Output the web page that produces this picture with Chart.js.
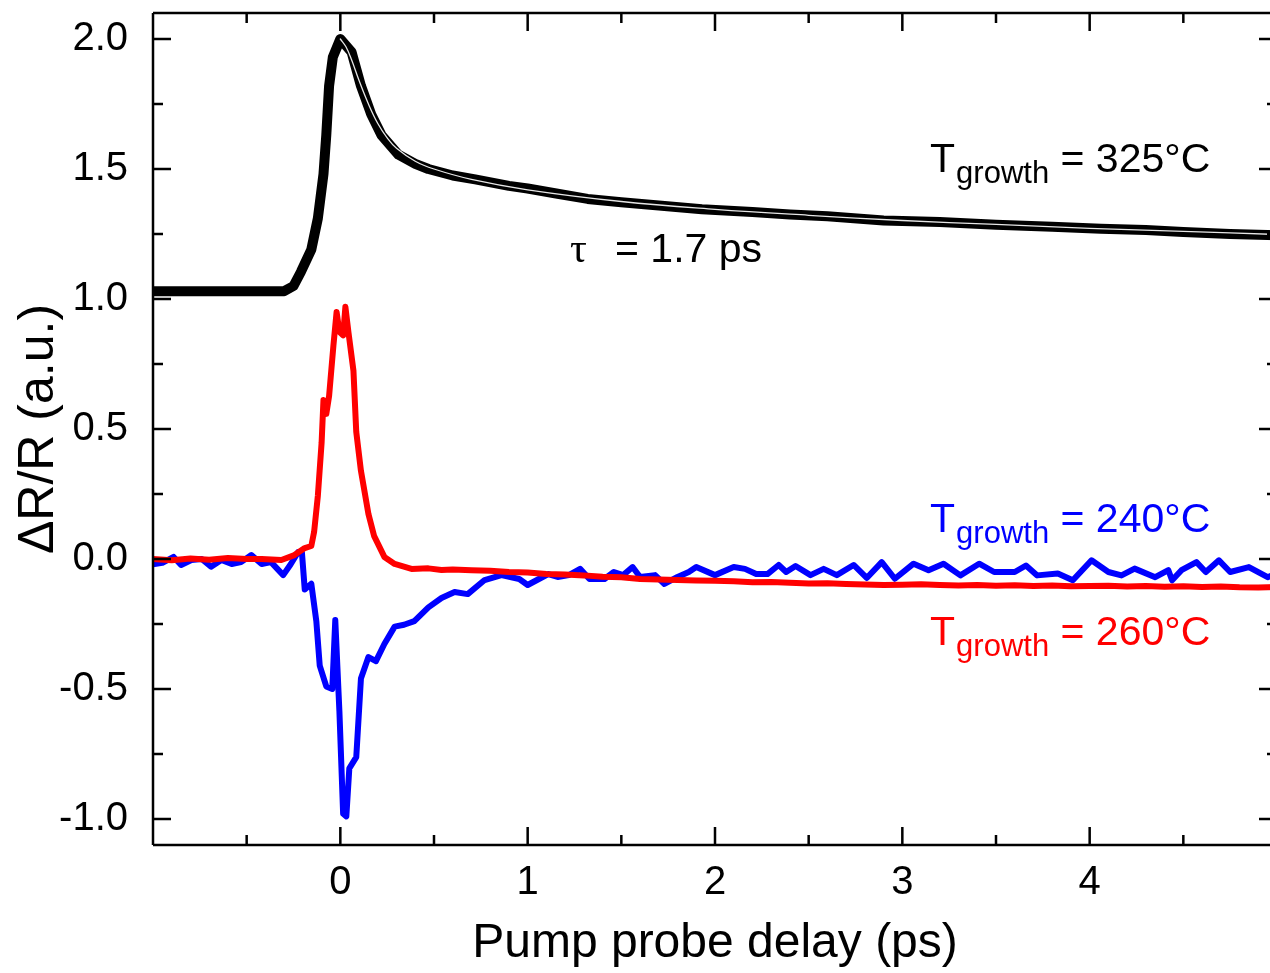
<!DOCTYPE html>
<html lang="en">
<head>
  <meta charset="UTF-8">
  <title>Pump probe delay</title>
  <script src="https://cdn.jsdelivr.net/npm/chart.js"></script>
  <style>
    html, body { margin: 0; padding: 0; background: #fff; overflow: hidden; }
    #wrap { width: 1280px; height: 973px; }
  </style>
</head>
<body>
  <div id="wrap"><canvas id="chart" width="1280" height="973"></canvas></div>
<script>
  // axis ticks
  const xTicks = [0, 1, 2, 3, 4];
  const xMinor = [-0.5, 0.5, 1.5, 2.5, 3.5, 4.5];
  const yTicks = [-1.0, -0.5, 0.0, 0.5, 1.0, 1.5, 2.0];
  const yMinor = [-0.75, -0.25, 0.25, 0.75, 1.25, 1.75];

  // T_growth = 325°C (data + fit)
  const blackX = [-1.0, -0.9, -0.8, -0.7, -0.6, -0.5, -0.4, -0.3, -0.25, -0.21, -0.155, -0.12, -0.09, -0.075, -0.06, -0.04,
    0.0, 0.06, 0.11, 0.165, 0.22, 0.31, 0.4, 0.47, 0.6, 0.72, 0.9, 1.0, 1.16, 1.32, 1.5, 1.7, 1.93, 2.2, 2.4, 2.6, 2.9,
    3.2, 3.5, 3.8, 4.06, 4.3, 4.5, 4.75, 5.0];
  const blackY = [1.03, 1.03, 1.03, 1.03, 1.03, 1.03, 1.03, 1.03, 1.05, 1.105, 1.19, 1.31, 1.48, 1.63, 1.82, 1.93,
    2.0, 1.95, 1.82, 1.71, 1.63, 1.555, 1.52, 1.50, 1.475, 1.46, 1.435, 1.425, 1.405, 1.385, 1.372, 1.36, 1.345, 1.335, 1.325, 1.318, 1.302,
    1.296, 1.286, 1.278, 1.27, 1.265, 1.258, 1.25, 1.245];
  const fitX = [0.0, 0.03, 0.06, 0.1, 0.15, 0.2, 0.25, 0.3, 0.4, 0.5, 0.7, 1.0, 1.5, 2.0, 2.5, 3.0, 3.5, 4.0, 4.5, 5.0];
  const fitY = [2.0, 1.97, 1.92, 1.84, 1.75, 1.675, 1.62, 1.58, 1.53, 1.50, 1.46, 1.42, 1.375, 1.345, 1.322, 1.302, 1.287, 1.272, 1.26, 1.248];

  // T_growth = 260°C
  const redX = [-1.0, -0.9, -0.8, -0.7, -0.6, -0.5,
    -0.42, -0.315, -0.245, -0.19, -0.155, -0.14, -0.12, -0.1, -0.09, -0.075, -0.06, -0.037, -0.02,
    -0.005, 0.015, 0.027, 0.043, 0.07, 0.085, 0.11, 0.15, 0.18, 0.235, 0.29, 0.38, 0.47,
    0.54, 0.6, 0.7, 0.8, 0.9, 1.0, 1.1, 1.2, 1.3, 1.4, 1.5, 1.6, 1.7, 1.8, 1.9, 2.0,
    2.1, 2.2, 2.3, 2.4, 2.5, 2.6, 2.7, 2.8, 2.9, 3.0, 3.1, 3.2, 3.3, 3.4, 3.5,
    3.6, 3.7, 3.8, 3.9, 4.0, 4.1, 4.2, 4.3, 4.4, 4.5, 4.6, 4.7, 4.8, 4.9, 5.0];
  const redY = [0.0, -0.005, 0.002, -0.003, 0.004, 0.0,
    0.0, -0.004, 0.015, 0.042, 0.05, 0.104, 0.243, 0.447, 0.612, 0.558, 0.627, 0.82, 0.95,
    0.874, 0.86, 0.97, 0.874, 0.724, 0.489, 0.339, 0.173, 0.089, 0.008, -0.019, -0.038, -0.036,
    -0.042, -0.04, -0.043, -0.045, -0.05, -0.052, -0.058, -0.06, -0.063, -0.068, -0.07, -0.077, -0.079, -0.081, -0.083, -0.084,
    -0.086, -0.089, -0.088, -0.091, -0.094, -0.093, -0.096, -0.098, -0.1, -0.099, -0.097, -0.1, -0.102, -0.1, -0.103,
    -0.101, -0.104, -0.102, -0.105, -0.104, -0.103, -0.106, -0.104, -0.107, -0.105, -0.108, -0.106, -0.109, -0.11, -0.108];

  // T_growth = 240°C
  const blueX = [-1.0, -0.95, -0.89, -0.85, -0.795, -0.74, -0.69, -0.635, -0.58, -0.53, -0.475, -0.42, -0.37,
    -0.305, -0.265, -0.225, -0.205, -0.19, -0.155, -0.128, -0.11, -0.075, -0.043, -0.027, -0.005,
    0.015, 0.032, 0.048, 0.085, 0.11, 0.15, 0.19, 0.235, 0.29, 0.34, 0.395, 0.47, 0.54, 0.61, 0.68,
    0.77, 0.86, 0.955, 1.0, 1.06, 1.11, 1.16, 1.22, 1.28, 1.33, 1.41, 1.46, 1.51, 1.56, 1.6, 1.68,
    1.73, 1.8, 1.86, 1.9, 2.0, 2.1, 2.16, 2.22, 2.28, 2.34, 2.38, 2.43, 2.51, 2.58, 2.65, 2.74,
    2.81, 2.89, 2.96, 3.06, 3.14, 3.22, 3.31, 3.41, 3.49, 3.6, 3.66, 3.72, 3.83, 3.91, 4.01,
    4.1, 4.17, 4.24, 4.35, 4.42, 4.44, 4.49, 4.57, 4.62, 4.69, 4.75, 4.85, 4.95, 5.0];
  const blueY = [-0.02, -0.015, 0.008, -0.023, -0.004, 0.0, -0.03, -0.004, -0.019, -0.012, 0.015, -0.019, -0.012,
    -0.062, -0.02, 0.027, 0.025, -0.117, -0.095, -0.24, -0.41, -0.49, -0.50, -0.235, -0.585,
    -0.98, -0.99, -0.805, -0.762, -0.46, -0.377, -0.393, -0.327, -0.26, -0.253, -0.239, -0.186, -0.15, -0.127, -0.135,
    -0.081, -0.062, -0.077, -0.10, -0.077, -0.058, -0.069, -0.062, -0.038, -0.077, -0.077, -0.05, -0.062, -0.031, -0.069, -0.062,
    -0.096, -0.069, -0.05, -0.031, -0.062, -0.031, -0.038, -0.058, -0.058, -0.023, -0.05, -0.027, -0.062, -0.038, -0.062, -0.023,
    -0.073, -0.012, -0.076, -0.018, -0.043, -0.018, -0.063, -0.018, -0.05, -0.05, -0.025, -0.063, -0.056, -0.082, -0.005,
    -0.05, -0.063, -0.037, -0.07, -0.043, -0.082, -0.043, -0.012, -0.05, -0.005, -0.05, -0.031, -0.07, -0.055];

  const FONT = "'Liberation Sans', Arial, sans-serif";
  const pts = (xs, ys) => xs.map((x, i) => ({ x: x, y: ys[i] }));

  // inward ticks on all four sides plus the frame
  const frameTicks = {
    id: 'frameTicks',
    afterDraw(chart) {
      const { ctx, chartArea: a, scales: { x, y } } = chart;
      ctx.save();
      ctx.strokeStyle = '#000';
      ctx.lineWidth = 2.5;
      ctx.beginPath();
      ctx.moveTo(a.left, a.top); ctx.lineTo(a.right, a.top);
      ctx.moveTo(a.left, a.bottom); ctx.lineTo(a.right, a.bottom);
      ctx.moveTo(a.left, a.top); ctx.lineTo(a.left, a.bottom);
      ctx.moveTo(a.right, a.top); ctx.lineTo(a.right, a.bottom);
      ctx.stroke();
      const tickX = (v, len) => {
        const px = x.getPixelForValue(v);
        ctx.moveTo(px, a.bottom); ctx.lineTo(px, a.bottom - len);
        ctx.moveTo(px, a.top); ctx.lineTo(px, a.top + len);
      };
      const tickY = (v, len) => {
        const py = y.getPixelForValue(v);
        ctx.moveTo(a.left, py); ctx.lineTo(a.left + len, py);
        ctx.moveTo(a.right, py); ctx.lineTo(a.right - len, py);
      };
      ctx.beginPath();
      xTicks.forEach(v => tickX(v, 18));
      xMinor.forEach(v => tickX(v, 10));
      yTicks.forEach(v => tickY(v, 18));
      yMinor.forEach(v => tickY(v, 10));
      ctx.stroke();
      ctx.restore();
    }
  };

  // text labels inside the plot
  const notes = {
    id: 'notes',
    afterDatasetsDraw(chart) {
      const { ctx, scales: { x, y } } = chart;
      const tLabel = (xv, yv, color, value) => {
        let px = x.getPixelForValue(xv);
        const py = y.getPixelForValue(yv);
        ctx.fillStyle = color;
        ctx.textBaseline = 'alphabetic';
        ctx.textAlign = 'left';
        ctx.font = '41px ' + FONT;
        ctx.fillText('T', px, py);
        px += ctx.measureText('T').width + 1;
        ctx.font = '31px ' + FONT;
        ctx.fillText('growth', px, py + 11);
        px += ctx.measureText('growth').width;
        ctx.font = '41px ' + FONT;
        ctx.fillText(' = ' + value, px, py);
      };
      ctx.save();
      tLabel(3.148, 1.488, '#000', '325°C');
      tLabel(3.148, 0.104, '#0000ff', '240°C');
      tLabel(3.148, -0.331, '#ff0000', '260°C');
      const tx = x.getPixelForValue(1.226);
      const ty = y.getPixelForValue(1.142);
      ctx.fillStyle = '#000';
      ctx.font = "42px 'Liberation Serif', 'Times New Roman', serif";
      ctx.fillText('τ', tx, ty);
      ctx.font = '41px ' + FONT;
      ctx.fillText('= 1.7 ps', tx + 45, ty);
      ctx.restore();
    }
  };

  const line = (data, color, width, order, tension) => ({
    data: data,
    borderColor: color,
    borderWidth: width,
    pointRadius: 0,
    tension: tension || 0,
    borderJoinStyle: 'round',
    borderCapStyle: 'round',
    fill: false,
    order: order
  });

  new Chart(document.getElementById('chart'), {
    type: 'line',
    data: {
      datasets: [
        line(pts(fitX, fitY), '#e6e6e6', 1.3, 0, 0.4),
        line(pts(blackX, blackY), '#000000', 10, 1),
        line(pts(redX, redY), '#ff0000', 6, 2),
        line(pts(blueX, blueY), '#0000ff', 6, 3)
      ]
    },
    options: {
      responsive: false,
      animation: false,
      layout: { padding: { top: 13, right: 3, left: 0, bottom: 0 } },
      plugins: { legend: { display: false }, tooltip: { enabled: false } },
      scales: {
        x: {
          type: 'linear', min: -1, max: 5,
          afterFit: s => { s.height = 128; s.paddingLeft = 0; s.paddingRight = 0; },
          afterBuildTicks: s => { s.ticks = xTicks.map(v => ({ value: v })); },
          grid: { display: false, drawTicks: false },
          border: { display: false },
          ticks: { padding: 14, color: '#000', autoSkip: false, maxRotation: 0,
            font: { family: FONT, size: 40 }, callback: v => String(v) },
          title: { display: true, text: 'Pump probe delay (ps)', color: '#000',
            font: { family: FONT, size: 48 }, padding: 0 }
        },
        y: {
          type: 'linear', min: -1.1, max: 2.1,
          afterFit: s => { s.width = 153; s.paddingTop = 0; s.paddingBottom = 0; },
          afterBuildTicks: s => { s.ticks = yTicks.map(v => ({ value: v })); },
          grid: { display: false, drawTicks: false },
          border: { display: false },
          ticks: { padding: 25, color: '#000', autoSkip: false,
            font: { family: FONT, size: 40 }, callback: v => v.toFixed(1) },
          title: { display: true, text: 'ΔR/R (a.u.)', color: '#000',
            font: { family: FONT, size: 50 }, padding: { top: 9, bottom: 0 } }
        }
      }
    },
    plugins: [frameTicks, notes]
  });
</script>
</body>
</html>
